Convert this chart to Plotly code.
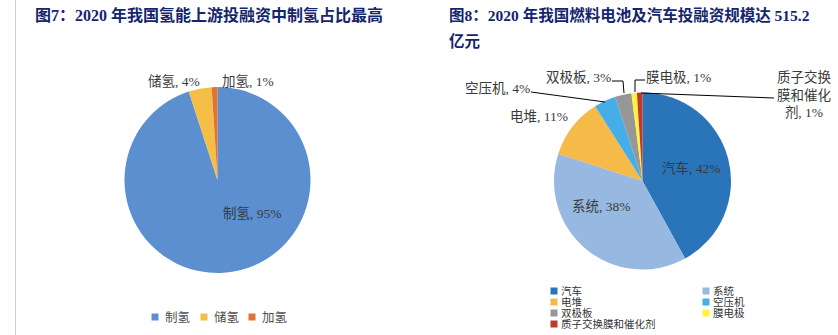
import plotly.graph_objects as go

W, H = 838, 335

# Left chart: hydrogen upstream financing split
h2_labels = ["制氢", "储氢", "加氢"]
h2_values = [95, 4, 1]
h2_colors = ["#5B8FD0", "#F5BE46", "#DE7434"]

# Right chart: fuel-cell & vehicle financing split
fc_labels = ["汽车", "系统", "电堆", "空压机", "双极板", "膜电极", "质子交换膜和催化剂"]
fc_values = [42, 38, 11, 4, 3, 1, 1]
fc_colors = ["#2A74B9", "#97B8E0", "#F5BA47", "#45AEE8", "#979797", "#FFF33F", "#C0392B"]

title_left = "图7：2020 年我国氢能上游投融资中制氢占比最高"
title_right_1 = "图8：2020 年我国燃料电池及汽车投融资规模达 515.2"
title_right_2 = "亿元"

SERIF = "Liberation Serif, Times New Roman, Noto Sans CJK SC, serif"
TITLE_COLOR = "#14256E"
LABEL_COLOR = "#3A3A3A"


def px(x):
    return x / W


def py(y):
    return 1 - y / H


def pie_domain(cx, cy, r):
    return dict(x=[px(cx - r), px(cx + r)], y=[py(cy + r), py(cy - r)])


fig = go.Figure()

fig.add_trace(go.Pie(
    labels=h2_labels, values=h2_values, sort=False,
    direction="clockwise", rotation=0,
    marker=dict(colors=h2_colors, line=dict(width=0)),
    textinfo="none", showlegend=False,
    domain=pie_domain(217.5, 180, 93),
))

fig.add_trace(go.Pie(
    labels=fc_labels, values=fc_values, sort=False,
    direction="clockwise", rotation=0,
    marker=dict(colors=fc_colors, line=dict(width=0)),
    textinfo="none", showlegend=False,
    domain=pie_domain(642.5, 181, 88.5),
))

annotations = []
shapes = []


def text(x, y, s, size=13, color=LABEL_COLOR, xanchor="center", bold=False, family=SERIF):
    if bold:
        s = f"<b>{s}</b>"
    annotations.append(dict(
        x=px(x), y=py(y), xref="paper", yref="paper", text=s,
        showarrow=False, xanchor=xanchor, yanchor="middle",
        font=dict(family=family, size=size, color=color),
    ))


def line(points, color="#000000", width=1):
    path = "M " + " L ".join(f"{px(a)},{py(b)}" for a, b in points)
    shapes.append(dict(type="path", path=path, xref="paper", yref="paper",
                       line=dict(color=color, width=width)))


def pct(labels, values, i):
    return f"{labels[i]}, {values[i]}%"


# Titles
text(33, 15, title_left, size=16, color=TITLE_COLOR, xanchor="left", bold=True)
text(447, 15, title_right_1, size=15.5, color=TITLE_COLOR, xanchor="left", bold=True)
text(447, 41, title_right_2, size=15.5, color=TITLE_COLOR, xanchor="left", bold=True)

# Page separator
shapes.append(dict(type="line", xref="paper", yref="paper",
                   x0=px(15.5), x1=px(15.5), y0=0, y1=1,
                   line=dict(color="#CFCFCF", width=1)))

# Left pie labels
text(252, 213, pct(h2_labels, h2_values, 0), size=13.5)
text(174, 82, pct(h2_labels, h2_values, 1), size=13.5)
text(248, 82, pct(h2_labels, h2_values, 2), size=13.5)

# Right pie labels
text(691, 168, pct(fc_labels, fc_values, 0), size=13.5)
text(601, 206, pct(fc_labels, fc_values, 1), size=13.5)
text(539, 117, pct(fc_labels, fc_values, 2), size=13.5)
text(497, 88, pct(fc_labels, fc_values, 3), size=13.5)
text(578, 77, pct(fc_labels, fc_values, 4), size=13.5)
text(678, 77, pct(fc_labels, fc_values, 5), size=13.5)
name = fc_labels[6]
text(804, 94, f"{name[:4]}<br>{name[4:8]}<br>{name[8:]}, {fc_values[6]}%", size=13.5)

# Leader lines
line([(531, 92), (605, 102)])
line([(612, 81), (623, 81), (624, 93)])
line([(645, 80), (635, 80), (635, 92)])
line([(641, 93), (774, 98)])

# Left legend (one row)
lx = [155, 204, 252]
for i, lab in enumerate(h2_labels):
    shapes.append(dict(type="rect", xref="paper", yref="paper",
                       x0=px(lx[i] - 3.5), x1=px(lx[i] + 3.5),
                       y0=py(317 + 3.5), y1=py(317 - 3.5),
                       fillcolor=h2_colors[i], line=dict(width=0)))
    text(lx[i] + 8, 317, lab, size=12.5, color="#505050", xanchor="left")

# Right legend (two columns)
for i, lab in enumerate(fc_labels):
    col, row = i % 2, i // 2
    cx = 554 if col == 0 else 706
    cy = 291 + row * 11
    shapes.append(dict(type="rect", xref="paper", yref="paper",
                       x0=px(cx - 3.5), x1=px(cx + 3.5),
                       y0=py(cy + 3.5), y1=py(cy - 3.5),
                       fillcolor=fc_colors[i], line=dict(width=0)))
    text(cx + 5, cy, lab, size=10.5, color="#333333", xanchor="left")

fig.update_layout(
    width=W, height=H,
    margin=dict(l=0, r=0, t=0, b=0),
    paper_bgcolor="#FFFFFF", plot_bgcolor="#FFFFFF",
    annotations=annotations, shapes=shapes,
    showlegend=False,
)

fig.write_html("out.html")
